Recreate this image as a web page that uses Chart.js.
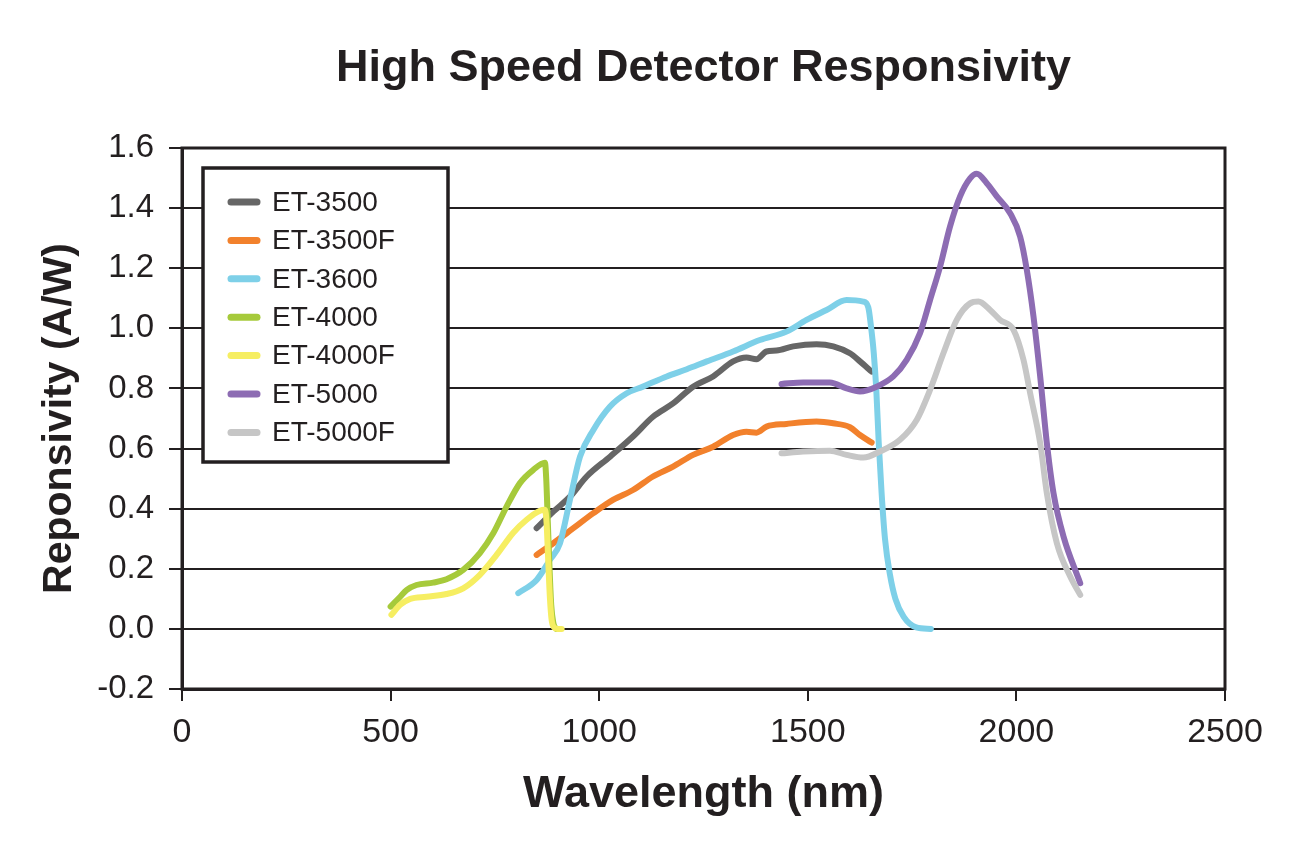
<!DOCTYPE html>
<html>
<head>
<meta charset="utf-8">
<title>High Speed Detector Responsivity</title>
<script src="https://cdn.jsdelivr.net/npm/chart.js@4.4.1/dist/chart.umd.min.js"></script>
<style>
  html, body { margin: 0; padding: 0; background: #fff; }
  #wrap { width: 1294px; height: 858px; position: relative; }
</style>
</head>
<body>
<div id="wrap"><canvas id="resp-chart"></canvas></div>
<script>
// ---- data (wavelength nm / responsivity A/W) ----
const seriesNames = ['ET-3500', 'ET-3500F', 'ET-3600', 'ET-4000', 'ET-4000F', 'ET-5000', 'ET-5000F'];

const et3500Nm   = [850, 890, 930, 970, 1026, 1081, 1129, 1177, 1225, 1273, 1321, 1353, 1377, 1401, 1425, 1465, 1521, 1561, 1601, 1625, 1653];
const et3500Resp = [0.335, 0.39, 0.44, 0.507, 0.573, 0.64, 0.706, 0.75, 0.806, 0.84, 0.89, 0.903, 0.897, 0.923, 0.926, 0.94, 0.947, 0.94, 0.917, 0.89, 0.856];

const et3500fNm   = [850, 890, 938, 986, 1033, 1081, 1129, 1177, 1225, 1273, 1321, 1353, 1377, 1401, 1449, 1521, 1561, 1601, 1625, 1653];
const et3500fResp = [0.246, 0.285, 0.335, 0.385, 0.429, 0.462, 0.507, 0.54, 0.579, 0.606, 0.645, 0.656, 0.653, 0.673, 0.682, 0.69, 0.684, 0.671, 0.645, 0.62];

const et3600Nm   = [806, 850, 882, 906, 930, 954, 986, 1026, 1066, 1105, 1162, 1210, 1258, 1321, 1385, 1449, 1497, 1545, 1593, 1633, 1645, 1652, 1658, 1664, 1670, 1677, 1685, 1697, 1710, 1730, 1760, 1795];
const et3600Resp = [0.119, 0.163, 0.23, 0.285, 0.43, 0.573, 0.662, 0.74, 0.784, 0.806, 0.84, 0.864, 0.89, 0.923, 0.961, 0.989, 1.028, 1.061, 1.094, 1.089, 1.07, 1.0, 0.92, 0.8, 0.62, 0.45, 0.3, 0.18, 0.1, 0.04, 0.005, 0.0];

const et4000Nm   = [500, 523, 539, 562, 602, 634, 674, 714, 746, 778, 810, 842, 870, 873, 877, 881, 885, 890, 897];
const et4000Resp = [0.074, 0.107, 0.13, 0.146, 0.154, 0.165, 0.196, 0.252, 0.318, 0.407, 0.485, 0.529, 0.553, 0.5, 0.35, 0.2, 0.08, 0.02, 0.0];

const et4000fNm   = [502, 523, 547, 586, 634, 674, 714, 754, 794, 826, 858, 870, 874, 878, 882, 886, 892, 900, 910];
const et4000fResp = [0.047, 0.08, 0.1, 0.107, 0.116, 0.135, 0.18, 0.246, 0.32, 0.363, 0.393, 0.396, 0.35, 0.22, 0.1, 0.03, 0.005, 0.0, 0.0];

const et5000Nm   = [1437, 1489, 1553, 1593, 1625, 1665, 1705, 1737, 1769, 1793, 1817, 1841, 1865, 1889, 1905, 1929, 1953, 1985, 2009, 2025, 2041, 2057, 2073, 2089, 2113, 2153];
const et5000Resp = [0.815, 0.82, 0.82, 0.8, 0.79, 0.806, 0.84, 0.895, 0.984, 1.094, 1.205, 1.339, 1.439, 1.499, 1.514, 1.483, 1.439, 1.383, 1.305, 1.194, 1.039, 0.84, 0.618, 0.451, 0.307, 0.152];

const et5000fNm   = [1437, 1489, 1553, 1593, 1633, 1673, 1721, 1761, 1793, 1825, 1857, 1889, 1909, 1937, 1961, 1993, 2017, 2033, 2057, 2073, 2097, 2129, 2153];
const et5000fResp = [0.584, 0.59, 0.593, 0.579, 0.57, 0.59, 0.629, 0.695, 0.795, 0.917, 1.028, 1.083, 1.089, 1.061, 1.028, 0.995, 0.895, 0.784, 0.618, 0.451, 0.285, 0.174, 0.113];

const xTicks = [0, 500, 1000, 1500, 2000, 2500];
const yTicks = [-0.2, 0.0, 0.2, 0.4, 0.6, 0.8, 1.0, 1.2, 1.4, 1.6];

const seriesX = [et3500Nm, et3500fNm, et3600Nm, et4000Nm, et4000fNm, et5000Nm, et5000fNm];
const seriesY = [et3500Resp, et3500fResp, et3600Resp, et4000Resp, et4000fResp, et5000Resp, et5000fResp];
const colors  = ['#666666', '#F2812C', '#7ED0E8', '#A6CA3B', '#F6EE62', '#8D6CB3', '#C6C6C6'];

const INK = '#231f20';
const FONT = "'Liberation Sans', Arial, Helvetica, sans-serif";

// frame on top/right + legend box inside the plot (Excel style)
const frameAndLegend = {
  id: 'frameAndLegend',
  afterDraw(chart) {
    const { ctx, chartArea: a } = chart;
    ctx.save();
    ctx.strokeStyle = INK;
    ctx.lineWidth = 3;
    ctx.strokeRect(a.left, a.top, a.right - a.left, a.bottom - a.top);

    // legend
    const bx = a.left + 21, by = a.top + 20, bw = 245, bh = 294;
    ctx.fillStyle = '#fff';
    ctx.fillRect(bx, by, bw, bh);
    ctx.lineWidth = 3.5;
    ctx.strokeRect(bx, by, bw, bh);
    ctx.font = '28px ' + FONT;
    ctx.textBaseline = 'middle';
    ctx.textAlign = 'left';
    chart.data.datasets.forEach((ds, i) => {
      const y = by + 34 + i * 38.4;
      ctx.strokeStyle = ds.borderColor;
      ctx.lineWidth = 7;
      ctx.lineCap = 'round';
      ctx.beginPath();
      ctx.moveTo(bx + 28, y);
      ctx.lineTo(bx + 54, y);
      ctx.stroke();
      ctx.fillStyle = INK;
      ctx.fillText(ds.label, bx + 69, y + 1);
    });
    ctx.restore();
  }
};

const datasets = seriesNames.map((name, i) => ({
  label: name,
  data: seriesX[i].map((x, j) => ({ x: x, y: seriesY[i][j] })),
  borderColor: colors[i],
  backgroundColor: colors[i],
  borderWidth: 6,
  borderCapStyle: 'round',
  borderJoinStyle: 'round',
  pointRadius: 0,
  cubicInterpolationMode: 'monotone',
  fill: false,
  order: seriesNames.length - i
}));

new Chart(document.getElementById('resp-chart').getContext('2d'), {
  type: 'line',
  data: { datasets },
  options: {
    responsive: true,
    maintainAspectRatio: false,
    animation: false,
    layout: { padding: { top: 0, right: 69, bottom: 0, left: 0 } },
    plugins: {
      legend: { display: false },
      tooltip: { enabled: false },
      title: {
        display: true,
        fullSize: false,
        text: 'High Speed Detector Responsivity',
        color: INK,
        font: { family: FONT, size: 45, weight: 'bold', lineHeight: 1.2 },
        padding: { top: 42, bottom: 52 }
      }
    },
    scales: {
      x: {
        type: 'linear',
        min: 0, max: 2500,
        afterFit(scale) { scale.height = 169; },
        afterBuildTicks(scale) { scale.ticks = xTicks.map(v => ({ value: v })); },
        ticks: { color: INK, padding: 11, font: { family: FONT, size: 34 },
                 callback: v => String(v) },
        grid: { drawOnChartArea: false, drawTicks: true, tickLength: 12, color: INK, lineWidth: 2 },
        border: { display: true, color: INK, width: 3 },
        title: {
          display: true, text: 'Wavelength (nm)', color: INK,
          font: { family: FONT, size: 45, weight: 'bold', lineHeight: 1.2 },
          padding: { top: 0, bottom: 36 }
        }
      },
      y: {
        type: 'linear',
        min: -0.2, max: 1.6,
        afterFit(scale) { scale.width = 182; },
        afterBuildTicks(scale) { scale.ticks = yTicks.map(v => ({ value: v })); },
        ticks: { color: INK, padding: 15, font: { family: FONT, size: 33 },
                 callback: v => Number(v).toFixed(1) },
        grid: { color: INK, lineWidth: 2, tickLength: 13, drawTicks: true },
        border: { display: true, color: INK, width: 3 },
        title: {
          display: true, text: 'Reponsivity (A/W)', color: INK,
          font: { family: FONT, size: 41, weight: 'bold', lineHeight: 1.2 },
          padding: { top: 35, bottom: 0 }
        }
      }
    }
  },
  plugins: [frameAndLegend]
});
</script>
</body>
</html>
